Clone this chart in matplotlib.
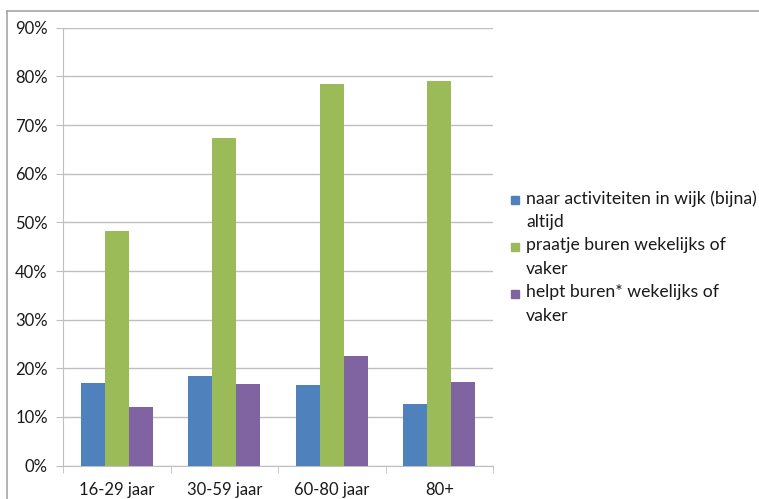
import numpy as np
import matplotlib
matplotlib.use("Agg")
import matplotlib.pyplot as plt
from matplotlib.lines import Line2D
from matplotlib.patches import Rectangle

plt.rcParams['font.family'] = ['Lato', 'DejaVu Sans']

# data (percentages)
categories = ['16-29 jaar', '30-59 jaar', '60-80 jaar', '80+']
activiteiten = [17.0, 18.4, 16.5, 12.7]
praatje = [48.2, 67.3, 78.5, 79.1]
helpt = [12.0, 16.7, 22.6, 17.1]
series_labels = ['naar activiteiten in wijk (bijna)\naltijd',
                 'praatje buren wekelijks of\nvaker',
                 'helpt buren* wekelijks of\nvaker']
colors = ['#4F81BD', '#9BBB59', '#8064A2']
y_ticks = [0, 10, 20, 30, 40, 50, 60, 70, 80, 90]

W, H = 759, 499
fig = plt.figure(figsize=(W / 100, H / 100), dpi=100)
ax = fig.add_axes([63 / W, 1 - 465.6 / H, (493 - 63) / W, (465.6 - 27.8) / H])

x = np.arange(len(categories))
bw = 1 / 4.5
for i, (vals, col) in enumerate(zip([activiteiten, praatje, helpt], colors)):
    ax.bar(x + (i - 1) * bw, vals, width=bw, color=col, zorder=3)

ax.set_xlim(-0.5, len(categories) - 0.5)
ax.set_ylim(0, 90)
ax.set_yticks(y_ticks)
ax.set_yticklabels([f'{t}%' for t in y_ticks])
ax.yaxis.grid(True, color='#BFBFBF', linewidth=1, zorder=0)
ax.set_xticks(x)
ax.set_xticklabels(categories)
ax.set_xticks(np.arange(len(categories) + 1) - 0.5, minor=True)
ax.tick_params(axis='x', which='major', length=0, pad=12, labelsize=12, colors='#1a1a1a')
ax.tick_params(axis='x', which='minor', length=5, color='#BFBFBF', direction='out')
ax.tick_params(axis='y', length=5, color='#BFBFBF', pad=6, labelsize=12, colors='#1a1a1a')
ax.tick_params(axis='y', color='#BFBFBF')
for s in ['top', 'right']:
    ax.spines[s].set_visible(False)
for s in ['left', 'bottom']:
    ax.spines[s].set_color('#BFBFBF')

# legend, drawn by hand so the square sits at the first text line
ly = [200, 247, 294]
for lab, col, yy in zip(series_labels, colors, ly):
    fig.add_artist(Rectangle((511 / W, 1 - (yy + 4) / H), 8 / W, 8 / H,
                             transform=fig.transFigure, color=col))
    fig.text(526 / W, 1 - (yy - 10) / H, lab, fontsize=12.7, color='#1a1a1a',
             va='top', ha='left', linespacing=1.6)

# chart border (top and left only visible)
fig.add_artist(Line2D([7 / W, 1], [1 - 11 / H, 1 - 11 / H], color='#A6A6A6', lw=1.2))
fig.add_artist(Line2D([7 / W, 7 / W], [0, 1 - 11 / H], color='#A6A6A6', lw=1.2))

fig.savefig('out.png', dpi=100)
